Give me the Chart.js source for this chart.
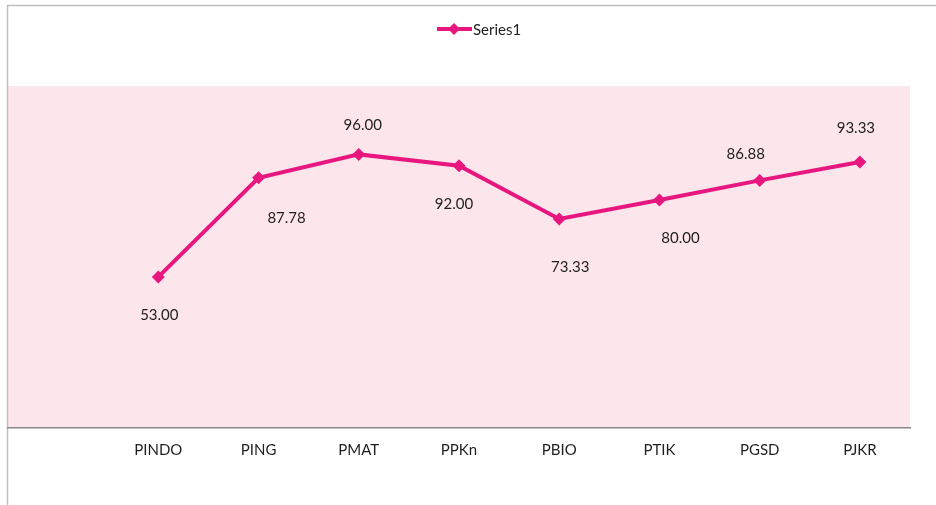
<!DOCTYPE html>
<html>
<head>
<meta charset="utf-8">
<script src="https://cdn.jsdelivr.net/npm/chart.js@4.4.1/dist/chart.umd.min.js"></script>
<style>
    html, body { margin: 0; padding: 0; background: #fff; }
    #wrap { width: 936px; height: 505px; }
</style>
</head>
<body>
<div id="wrap"><canvas id="grafico"></canvas></div>
<script>
// categorias (a primeira fica vazia, como no original)
const prodi = ['', 'PINDO', 'PING', 'PMAT', 'PPKn', 'PBIO', 'PTIK', 'PGSD', 'PJKR'];
const nilai = [null, 53.00, 87.78, 96.00, 92.00, 73.33, 80.00, 86.88, 93.33];
const namaSeri = 'Series1';

const corLinha = '#e8177f';
const corFundo = '#fce5eb';
const corTexto = '#1f1f1f';
const fonte = 'Lato, "Open Sans", sans-serif';

// deslocamento de cada rótulo em relação ao ponto (dx, dy)
const rotuloDx = [0, 1, 28, 4, -5, 11, 21, -14, -4];
const rotuloDy = [0, 38, 40, -29, 38, 48, 38, -26, -34];

const fundoEBorda = {
    id: 'fundoEBorda',
    beforeDraw(chart) {
        const { ctx, chartArea } = chart;
        ctx.save();
        ctx.fillStyle = corFundo;
        ctx.fillRect(chartArea.left, chartArea.top,
            chartArea.right - chartArea.left, chartArea.bottom - chartArea.top);
        // moldura cinza do gráfico
        ctx.strokeStyle = '#bfbfbf';
        ctx.lineWidth = 1.5;
        ctx.beginPath();
        ctx.moveTo(7.5, chart.height);
        ctx.lineTo(7.5, 5.5);
        ctx.lineTo(chart.width, 5.5);
        ctx.stroke();
        ctx.restore();
    }
};

const rotulos = {
    id: 'rotulos',
    afterDatasetsDraw(chart) {
        const { ctx } = chart;
        const meta = chart.getDatasetMeta(0);
        ctx.save();
        ctx.font = '15px ' + fonte;
        ctx.fillStyle = corTexto;
        ctx.textAlign = 'center';
        ctx.textBaseline = 'middle';
        meta.data.forEach((p, i) => {
            const v = nilai[i];
            if (v === null) return;
            ctx.fillText(v.toFixed(2), p.x + rotuloDx[i], p.y + rotuloDy[i]);
        });
        ctx.restore();
    }
};

// legenda: linha com losango + nome da série
const legenda = {
    id: 'legenda',
    afterDraw(chart) {
        const { ctx } = chart;
        const y = 29;
        ctx.save();
        ctx.strokeStyle = corLinha;
        ctx.lineWidth = 4;
        ctx.beginPath();
        ctx.moveTo(437, y);
        ctx.lineTo(472, y);
        ctx.stroke();
        ctx.fillStyle = corLinha;
        ctx.beginPath();
        ctx.moveTo(454, y - 6);
        ctx.lineTo(460, y);
        ctx.lineTo(454, y + 6);
        ctx.lineTo(448, y);
        ctx.closePath();
        ctx.fill();
        ctx.font = '15px ' + fonte;
        ctx.fillStyle = corTexto;
        ctx.textAlign = 'left';
        ctx.textBaseline = 'middle';
        ctx.fillText(namaSeri, 473, y + 1);
        ctx.restore();
    }
};

const grafico = new Chart(document.getElementById('grafico'), {
    type: 'line',
    data: {
        labels: prodi,
        datasets: [{
            label: namaSeri,
            data: nilai,
            borderColor: corLinha,
            backgroundColor: corLinha,
            borderWidth: 4,
            pointStyle: 'rectRot',
            pointRadius: 6.5,
            pointBorderWidth: 0,
            pointBackgroundColor: corLinha,
            tension: 0,
            spanGaps: false
        }]
    },
    options: {
        responsive: true,
        maintainAspectRatio: false,
        animation: false,
        layout: { padding: { left: 8, right: 26, top: 86, bottom: 47 } },
        plugins: {
            legend: { display: false },
            tooltip: { enabled: false }
        },
        scales: {
            x: {
                offset: true,
                grid: { display: false, drawTicks: false },
                border: { display: true, color: '#898989', width: 1.5 },
                ticks: {
                    color: corTexto,
                    font: { family: fonte, size: 15 },
                    padding: 13,
                    maxRotation: 0,
                    autoSkip: false
                },
                afterFit(scale) { scale.height = 30; }
            },
            y: {
                display: false,
                min: 0,
                max: 120
            }
        }
    },
    plugins: [fundoEBorda, rotulos, legenda]
});
</script>
</body>
</html>
